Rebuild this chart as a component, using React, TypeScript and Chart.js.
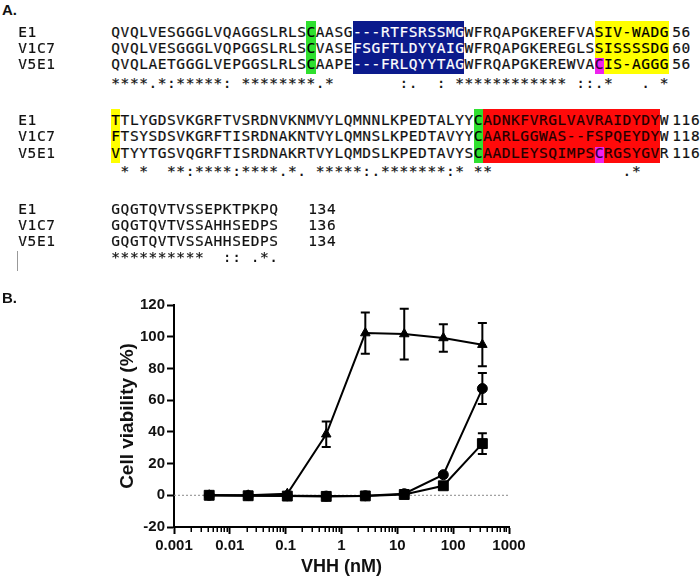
import React, { useEffect, useRef } from "react";
import { Chart, registerables } from "chart.js";
Chart.register(...registerables);

// ---------- Panel B data ----------
const concentrations = [0.00427, 0.0213, 0.107, 0.533, 2.67, 13.3, 66.7, 333.3];
const triangleMean = [0, 0, 1, 38.5, 102.3, 101.7, 99.2, 95];
const triangleErr = [0, 0, 0, 8, 13, 16, 8.7, 13.6];
const circleMean = [0, -0.2, -0.3, -0.5, -0.3, 1, 13, 67.3];
const circleErr = [0, 0, 0, 0, 0, 0, 0, 9.8];
const squareMean = [0, -0.3, -0.5, -0.7, -0.4, 0.5, 6, 32.6];
const squareErr = [0, 0, 0, 0, 0, 0, 0, 6.5];
const xTickValues = [0.001, 0.01, 0.1, 1, 10, 100, 1000];
const xTickLabels = ["0.001", "0.01", "0.1", "1", "10", "100", "1000"];
const yMin = -20;
const yMax = 120;
const yStep = 20;
const xTitle = "VHH (nM)";
const yTitle = "Cell viability (%)";

// ---------- Panel A data ----------
const seqNames = ["E1", "V1C7", "V5E1"];
const block1Seqs = [
  "QVQLVESGGGLVQAGGSLRLSCAASG---RTFSRSSMGWFRQAPGKEREFVASIV-WADG",
  "QVQLVESGGGLVQPGGSLRLSCVASEFSGFTLDYYAIGWFRQAPGKEREGLSSISSSSDG",
  "QVQLAETGGGLVEPGGSLRLSCAAPE---FRLQYYTAGWFRQAPGKEREWVACIS-AGGG",
];
const block1Nums = ["56", "60", "56"];
const block1Cons = "****.*:*****: ********.*       :.  : ************ ::.*   . *";
const block2Seqs = [
  "TTLYGDSVKGRFTVSRDNVKNMVYLQMNNLKPEDTALYYCADNKFVRGLVAVRAIDYDYW",
  "FTSYSDSVKGRFTISRDNAKNTVYLQMNSLKPEDTAVYYCAARLGGWAS--FSPQEYDYW",
  "VTYYTGSVQGRFTISRDNAKRTVYLQMDSLKPEDTAVYSCAADLEYSQIMPSCRGSYGVR",
];
const block2Nums = ["116", "118", "116"];
const block2Cons = " * *  **:****:****.*. *****:.*******:* **              .*";
const block3Seqs = [
  "GQGTQVTVSSEPKTPKPQ",
  "GQGTQVTVSSAHHSEDPS",
  "GQGTQVTVSSAHHSEDPS",
];
const block3Nums = ["134", "136", "134"];
const block3Cons = "**********  :: .*.";

// ---------- styling / layout ----------
const CH = 9.3;
const X0 = 111;
const LABEL_X = 18;
const GREEN = "#2fe02f";
const BLUE = "#0b1a8c";
const YELLOW = "#ffff00";
const RED = "#ff0a0a";
const MAGENTA = "#ee22ee";

type HL = { block: number; rows: [number, number]; cols: [number, number]; bg: string; fg: string };
const highlights: HL[] = [
  { block: 0, rows: [0, 2], cols: [22, 22], bg: GREEN, fg: "#000" },
  { block: 0, rows: [0, 2], cols: [27, 38], bg: BLUE, fg: "#fff" },
  { block: 0, rows: [0, 2], cols: [53, 60], bg: YELLOW, fg: "#000" },
  { block: 0, rows: [2, 2], cols: [53, 53], bg: MAGENTA, fg: "#300030" },
  { block: 1, rows: [0, 2], cols: [1, 1], bg: YELLOW, fg: "#000" },
  { block: 1, rows: [0, 2], cols: [40, 40], bg: GREEN, fg: "#000" },
  { block: 1, rows: [0, 2], cols: [41, 59], bg: RED, fg: "#200" },
  { block: 1, rows: [2, 2], cols: [53, 53], bg: MAGENTA, fg: "#300030" },
];

const blocks = [
  { seqs: block1Seqs, nums: block1Nums, cons: block1Cons, centers: [32, 48, 63.5, 83], numX: 672 },
  { seqs: block2Seqs, nums: block2Nums, cons: block2Cons, centers: [120, 136, 152.5, 171], numX: 672 },
  { seqs: block3Seqs, nums: block3Nums, cons: block3Cons, centers: [209, 225, 241, 257], numX: 308 },
];

const monoFont = "'DejaVu Sans Mono', monospace";

function fgAt(b: number, r: number, c: number) {
  let fg = "#111";
  for (const h of highlights) {
    if (h.block === b && r >= h.rows[0] && r <= h.rows[1] && c >= h.cols[0] && c <= h.cols[1]) fg = h.fg;
  }
  return fg;
}

function Cells({ text, x, center, colorFn }: { text: string; x: number; center: number; colorFn?: (c: number) => string }) {
  return (
    <div
      style={{
        position: "absolute",
        left: x,
        top: center - 8,
        height: 16,
        lineHeight: "16px",
        fontFamily: monoFont,
        fontSize: 14.5,
        whiteSpace: "pre",
        WebkitTextStroke: "0.2px",
      }}
    >
      {text.split("").map((ch, i) => (
        <span
          key={i}
          style={{
            display: "inline-block",
            width: CH,
            textAlign: "center",
            color: colorFn ? colorFn(i + 1) : "#111",
          }}
        >
          {ch}
        </span>
      ))}
    </div>
  );
}

function Alignment() {
  const items: any[] = [];
  highlights.forEach((h, k) => {
    const bl = blocks[h.block];
    const single = h.rows[0] === h.rows[1];
    const top = single ? bl.centers[h.rows[0]] - 6 : bl.centers[h.rows[0]] - 11;
    const bottom = bl.centers[h.rows[1]] + 10;
    items.push(
      <div
        key={"hl" + k}
        style={{
          position: "absolute",
          left: X0 + (h.cols[0] - 1) * CH,
          width: (h.cols[1] - h.cols[0] + 1) * CH,
          top,
          height: bottom - top,
          background: h.bg,
        }}
      />
    );
  });
  blocks.forEach((bl, b) => {
    bl.seqs.forEach((s, r) => {
      items.push(<Cells key={`n${b}${r}`} text={seqNames[r]} x={LABEL_X} center={bl.centers[r]} />);
      items.push(
        <Cells key={`s${b}${r}`} text={s} x={X0} center={bl.centers[r]} colorFn={(c) => fgAt(b, r, c)} />
      );
      items.push(<Cells key={`d${b}${r}`} text={bl.nums[r]} x={bl.numX} center={bl.centers[r]} />);
    });
    items.push(<Cells key={`c${b}`} text={bl.cons} x={X0} center={bl.centers[3]} />);
  });
  return <>{items}</>;
}

function ChartB() {
  const ref = useRef<HTMLCanvasElement | null>(null);
  useEffect(() => {
    if (!ref.current) return;
    const mk = (arr: number[]) => concentrations.map((x, i) => ({ x, y: arr[i] }));
    const tickFont = { family: "'Liberation Sans', Arial, sans-serif", weight: "bold" as const, size: 15 };
    const errorBars = {
      id: "errorBars",
      afterDatasetsDraw(chart: any) {
        const { ctx, scales } = chart;
        const xs = scales.x;
        const ys = scales.y;
        ctx.save();
        ctx.strokeStyle = "#000";
        ctx.lineWidth = 2;
        chart.data.datasets.forEach((ds: any) => {
          ds.data.forEach((p: any, i: number) => {
            const e = ds.errors[i];
            if (!e) return;
            const px = xs.getPixelForValue(p.x);
            const t = ys.getPixelForValue(p.y + e);
            const bt = ys.getPixelForValue(p.y - e);
            ctx.beginPath();
            ctx.moveTo(px, t);
            ctx.lineTo(px, bt);
            ctx.moveTo(px - 4.5, t);
            ctx.lineTo(px + 4.5, t);
            ctx.moveTo(px - 4.5, bt);
            ctx.lineTo(px + 4.5, bt);
            ctx.stroke();
          });
        });
        ctx.restore();
      },
    };
    const zeroLine = {
      id: "zeroLine",
      beforeDatasetsDraw(chart: any) {
        const { ctx, chartArea, scales } = chart;
        const y0 = scales.y.getPixelForValue(0);
        ctx.save();
        ctx.strokeStyle = "#8a8a8a";
        ctx.lineWidth = 1;
        ctx.setLineDash([2, 2]);
        ctx.beginPath();
        ctx.moveTo(chartArea.left, y0);
        ctx.lineTo(chartArea.right, y0);
        ctx.stroke();
        ctx.restore();
      },
    };
    const minorTicks = {
      id: "minorTicks",
      afterDraw(chart: any) {
        const { ctx, chartArea, scales } = chart;
        const xs = scales.x;
        ctx.save();
        ctx.strokeStyle = "#000";
        ctx.lineWidth = 1.5;
        ctx.beginPath();
        for (let d = 0; d < xTickValues.length - 1; d++) {
          for (let k = 2; k <= 9; k++) {
            const px = Math.round(xs.getPixelForValue(xTickValues[d] * k)) + 0.25;
            ctx.moveTo(px, chartArea.bottom);
            ctx.lineTo(px, chartArea.bottom + 5);
          }
        }
        ctx.stroke();
        ctx.restore();
      },
    };
    const common = {
      borderColor: "#000",
      backgroundColor: "#000",
      pointBackgroundColor: "#000",
      pointBorderColor: "#000",
      borderWidth: 2,
      pointBorderWidth: 1,
      tension: 0,
    };
    const chart = new Chart(ref.current, {
      type: "line",
      data: {
        datasets: [
          { ...common, label: "triangle", data: mk(triangleMean), errors: triangleErr, pointStyle: "triangle", pointRadius: 5.5 } as any,
          { ...common, label: "circle", data: mk(circleMean), errors: circleErr, pointStyle: "circle", pointRadius: 5 } as any,
          { ...common, label: "square", data: mk(squareMean), errors: squareErr, pointStyle: "rect", pointRadius: 7 } as any,
        ],
      },
      options: {
        animation: false,
        responsive: false,
        devicePixelRatio: 1,
        layout: { padding: { left: 116, right: 191, top: 15, bottom: 0 } },
        plugins: { legend: { display: false }, tooltip: { enabled: false } },
        scales: {
          x: {
            type: "logarithmic",
            min: 0.001,
            max: 1000,
            afterBuildTicks: (s: any) => {
              s.ticks = xTickValues.map((v) => ({ value: v }));
            },
            afterFit: (s: any) => {
              s.height = 53;
            },
            ticks: {
              callback: (_v: any, i: number) => xTickLabels[i],
              font: tickFont,
              color: "#111",
              padding: 3,
              maxRotation: 0,
              autoSkip: false,
            },
            grid: { display: true, drawOnChartArea: false, drawTicks: true, tickLength: 7, tickWidth: 2, tickColor: "#000" },
            border: { display: true, color: "#000", width: 2 },
            title: {
              display: true,
              text: xTitle,
              color: "#111",
              font: { family: "'Liberation Sans', Arial, sans-serif", weight: "bold", size: 18 },
              padding: { top: 0, bottom: 2 },
            },
          } as any,
          y: {
            min: yMin,
            max: yMax,
            afterFit: (s: any) => {
              s.width = 58;
            },
            ticks: { stepSize: yStep, font: tickFont, color: "#111", padding: 2 },
            grid: { display: true, drawOnChartArea: false, drawTicks: true, tickLength: 7, tickWidth: 2, tickColor: "#000" },
            border: { display: true, color: "#000", width: 2 },
            title: {
              display: true,
              text: yTitle,
              color: "#111",
              font: { family: "'Liberation Sans', Arial, sans-serif", weight: "bold", size: 19 },
              padding: { top: 0, bottom: 0 },
            },
          } as any,
        },
      },
      plugins: [zeroLine, errorBars, minorTicks],
    });
    return () => chart.destroy();
  }, []);
  return <canvas ref={ref} width={700} height={290} style={{ position: "absolute", left: 0, top: 290, width: 700, height: 290 }} />;
}

export default function App() {
  const panelLabel = {
    position: "absolute" as const,
    left: 2,
    fontFamily: "'Liberation Sans', Arial, sans-serif",
    fontWeight: "bold" as const,
    fontSize: 15,
    lineHeight: "16px",
    color: "#111",
  };
  return (
    <div style={{ position: "absolute", left: 0, top: 0, width: 700, height: 580, background: "#fff", overflow: "hidden" }}>
      <ChartB />
      <div style={{ ...panelLabel, top: 2 }}>A.</div>
      <div style={{ ...panelLabel, top: 290 }}>B.</div>
      <Alignment />
      <div style={{ position: "absolute", left: 17, top: 251, width: 1, height: 20, background: "#999" }} />
    </div>
  );
}
